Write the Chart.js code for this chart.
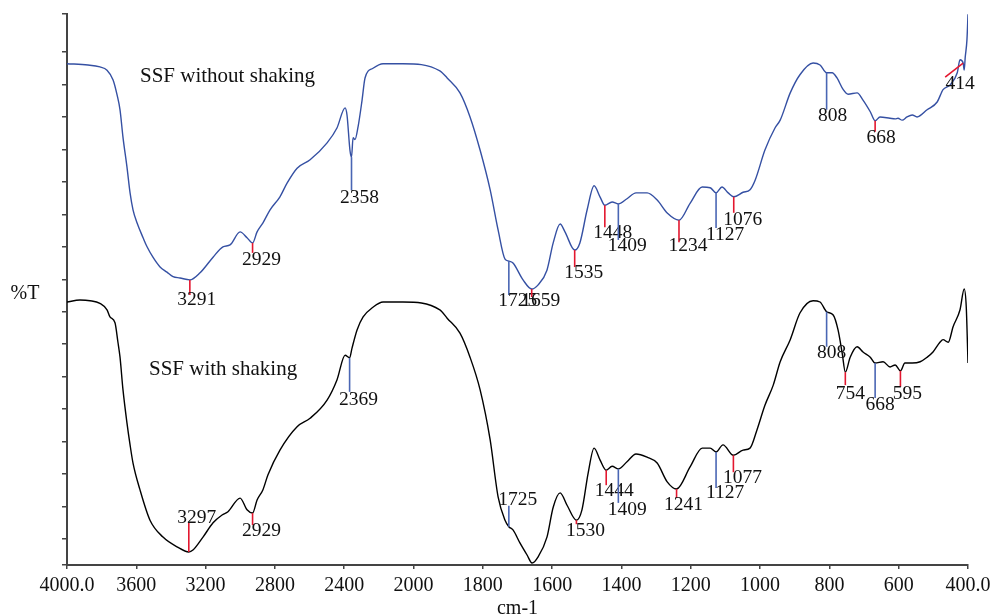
<!DOCTYPE html>
<html><head><meta charset="utf-8">
<script src="https://cdn.jsdelivr.net/npm/chart.js@4.4.1/dist/chart.umd.min.js"></script>
<style>html,body{margin:0;padding:0;background:#fff;}#wrap{width:993px;height:614px;}</style>
</head><body><div id="wrap"><canvas id="c" width="993" height="614"></canvas></div>
<script>
// ---- data (wavenumber in cm-1, transmittance in arbitrary %T units) ----
const wnWithout = [4000,3879,3810,3769,3734,3711,3694,3677,3654,3636,3619,3596,3561,3538,3504,3463,3423,3388,3348,3291,3232,3157,3100,3059,3001,2961,2929,2903,2869,2828,2771,2730,2672,2597,2499,2442,2395,2384,2367,2358,2349,2338,2320,2297,2280,2234,2176,2061,1924,1903,1866,1837,1808,1779,1756,1736,1725,1713,1684,1659,1641,1615,1597,1577,1563,1535,1520,1499,1479,1462,1448,1427,1409,1384,1358,1326,1297,1268,1234,1202,1167,1144,1127,1110,1092,1076,1049,1029,1014,986,957,942,913,885,847,827,808,792,778,760,746,720,703,682,668,654,625,610,602,590,576,561,547,518,489,472,452,431,423,414,411,408,403,400];
const tWithout = [77.2,77.0,76.7,76.2,74.7,72.4,70.1,65.9,61.3,57.3,54.7,52.7,50.4,49.0,47.4,45.9,45.1,44.4,44.2,43.9,45.0,47.4,49.0,49.3,51.3,50.4,49.6,51.3,52.7,54.7,56.7,58.8,61.1,62.4,65.0,67.3,70.4,69.3,63.9,62.8,65.8,65.5,67.5,71.6,75.0,76.5,77.2,77.2,76.1,75.0,72.7,69.0,63.9,57.8,51.6,47.1,46.8,46.5,43.9,42.5,43.1,45.4,49.6,52.5,51.3,48.5,49.6,54.7,58.4,56.7,55.4,55.9,55.6,56.4,57.3,57.3,56.2,54.2,53.1,55.7,58.2,58.1,57.3,58.2,57.3,56.7,57.4,57.8,59.3,63.9,67.3,68.5,72.7,75.5,77.3,77.0,75.8,75.8,75.0,73.2,72.5,72.7,71.6,69.8,68.4,69.0,68.8,68.7,68.8,68.5,69.0,69.3,69.0,70.1,71.3,73.2,73.9,75.8,77.8,77.3,76.2,78.2,80.9,84.8];

const wnWith = [4000,3925,3867,3810,3769,3752,3723,3706,3694,3677,3654,3636,3619,3579,3521,3446,3365,3297,3273,3215,3157,3105,3071,3001,2961,2929,2903,2869,2840,2771,2672,2597,2499,2442,2395,2369,2355,2326,2291,2234,2176,2061,1924,1903,1866,1837,1808,1779,1756,1736,1725,1713,1693,1672,1658,1641,1615,1597,1577,1557,1530,1514,1496,1479,1462,1444,1427,1409,1384,1358,1326,1297,1268,1241,1202,1167,1144,1127,1107,1077,1049,1029,1009,986,962,942,913,885,847,827,808,789,775,763,754,740,720,703,682,668,645,625,610,595,582,561,538,518,501,481,472,457,443,423,411,405,400];
const tWith = [40.5,40.8,40.7,40.3,39.3,38.2,37.3,34.3,32.0,27.0,21.9,18.5,15.7,11.6,6.9,4.3,2.8,2.0,2.3,4.3,6.5,7.7,8.2,10.3,8.5,8.0,10.0,11.6,13.9,17.7,21.3,22.6,25.4,28.5,32.3,31.9,33.4,36.2,38.2,39.7,40.5,40.5,39.3,38.0,35.7,32.0,27.0,19.3,10.5,6.9,5.9,5.4,3.4,1.5,0.3,1.2,4.3,8.9,11.1,9.2,6.9,8.5,14.2,18.0,16.2,14.6,15.2,14.8,15.9,17.1,16.6,15.7,12.8,11.7,15.1,18.0,18.0,17.4,18.5,16.9,17.7,18.0,20.8,24.6,27.7,31.3,34.7,38.8,40.7,40.5,39.0,38.5,36.2,32.6,29.7,32.0,33.6,32.8,32.0,31.1,31.3,30.5,30.8,29.9,31.1,31.1,31.3,32.0,32.8,34.3,34.7,34.3,36.7,39.3,42.5,39.7,31.1];

const xTickValues = [4000,3600,3200,2800,2400,2000,1800,1600,1400,1200,1000,800,600,400];
const xTickLabels = ['4000.0','3600','3200','2800','2400','2000','1800','1600','1400','1200','1000','800','600','400.0'];
const yTickValues = [0,4,9,14,19,24,29,34,39,44,49,54,59,64,69,74,79,84.85];

const peaksWithout = [3291,2929,2358,1725,1659,1535,1448,1409,1234,1127,1076,808,668,414];
const peakKindWithout = ['r','r','b','b','r','r','r','b','r','b','r','b','r','r'];
const peaksWith = [3297,2929,2369,1725,1530,1444,1409,1241,1127,1077,808,754,668,595];
const peakKindWith = ['r','r','b','b','r','r','b','r','b','r','b','r','b','r'];

// ---- annotation layout (pixels) ----
const layoutWithout = {
  len:  [15,10,33,34,8,17,22,36,22,35,16,37,11,14],
  lean: [0,0,0,0,0,0,0,0,0,0,0,0,0,-18],
  dx:   [7,9,8,9,9,9,8,9,9,9,9,6,6,-3],
  dy:   [25,22,46,45,17,28,33,47,31,47,28,48,22,26]
};
const layoutWith = {
  len:  [-29,12,34,-21,4,15,34,9,36,17,35,13,35,16],
  lean: [0,0,0,0,0,0,0,0,0,0,0,0,0,0],
  dx:   [8,9,9,9,9,8,9,7,9,9,5,5,5,7],
  dy:   [-29,23,47,-22,16,26,46,21,46,28,46,27,47,28]
};

// FTIR axis: scale halves above 2000 cm-1
const toAxis = w => (w > 2000 ? 2000 + (w - 2000) / 2 : w);
const valueAt = (wn, t, w) => {
  for (let i = 0; i < wn.length - 1; i++) {
    const a = wn[i], b = wn[i + 1];
    if ((w <= a && w >= b)) { const f = a === b ? 0 : (a - w) / (a - b); return t[i] + f * (t[i + 1] - t[i]); }
  }
  return t[t.length - 1];
};

const RED = '#e3172f', BLUE = '#4a66b4';
const SERIF = '"Liberation Serif", "DejaVu Serif", serif';

const annotPlugin = {
  id: 'annot',
  afterDatasetsDraw(chart) {
    const ctx = chart.ctx, xs = chart.scales.x, ys = chart.scales.y;
    ctx.save();
    ctx.font = '19.5px ' + SERIF;
    ctx.textAlign = 'center';
    ctx.textBaseline = 'alphabetic';
    const groups = [
      [peaksWithout, peakKindWithout, layoutWithout, wnWithout, tWithout],
      [peaksWith, peakKindWith, layoutWith, wnWith, tWith]
    ];
    groups.forEach(([peaks, kinds, lay, wn, t]) => {
      peaks.forEach((w, i) => {
        const px = xs.getPixelForValue(toAxis(w));
        const py = ys.getPixelForValue(valueAt(wn, t, w));
        ctx.strokeStyle = kinds[i] === 'r' ? RED : BLUE;
        ctx.lineWidth = 1.6;
        ctx.beginPath();
        ctx.moveTo(px, py);
        ctx.lineTo(px + lay.lean[i], py + lay.len[i]);
        ctx.stroke();
        ctx.fillStyle = '#111';
        ctx.fillText(String(w), px + lay.dx[i], py + lay.dy[i]);
      });
    });
    // captions
    ctx.textAlign = 'left';
    ctx.textBaseline = 'middle';
    ctx.font = '21px ' + SERIF;
    ctx.fillStyle = '#111';
    const ySeriesA = ys.getPixelForValue(valueAt(wnWithout, tWithout, 4000));
    ctx.fillText('SSF without shaking', 140, ySeriesA + 13);
    const ySeriesB = ys.getPixelForValue(valueAt(wnWith, tWith, 4000));
    ctx.fillText('SSF with shaking', 149, ySeriesB + 67);
    ctx.textAlign = 'center';
    ctx.font = '20px ' + SERIF;
    ctx.fillText('%T', 25, (chart.chartArea.top + chart.chartArea.bottom) / 2 + 4);
    ctx.restore();
  }
};

new Chart(document.getElementById('c'), {
  type: 'line',
  data: {
    datasets: [
      { label: 'SSF without shaking', data: wnWithout.map((w, i) => ({ x: toAxis(w), y: tWithout[i] })),
        borderColor: '#3550a3', borderWidth: 1.4, pointRadius: 0, fill: false, cubicInterpolationMode: 'monotone' },
      { label: 'SSF with shaking', data: wnWith.map((w, i) => ({ x: toAxis(w), y: tWith[i] })),
        borderColor: '#000000', borderWidth: 1.4, pointRadius: 0, fill: false, cubicInterpolationMode: 'monotone' }
    ]
  },
  options: {
    responsive: false,
    animation: false,
    layout: { padding: { top: 14, right: 25, left: 0, bottom: 0 } },
    plugins: { legend: { display: false }, tooltip: { enabled: false } },
    scales: {
      x: {
        type: 'linear', reverse: true, min: 400, max: 3000,
        afterBuildTicks: s => { s.ticks = xTickValues.map(w => ({ value: toAxis(w) })); },
        afterFit: s => { s.height = 49; s.paddingLeft = 0; s.paddingRight = 0; },
        ticks: { color: '#111', font: { family: SERIF, size: 20 }, padding: 5, maxRotation: 0, autoSkip: false,
          callback: (v, i) => xTickLabels[i] },
        grid: { drawOnChartArea: false, drawTicks: true, tickLength: 4, color: '#444', lineWidth: 1.5 },
        border: { display: true, color: '#444', width: 2 },
        title: { display: true, text: 'cm-1', color: '#111', font: { family: SERIF, size: 20 }, padding: { top: 0, bottom: -7 } }
      },
      y: {
        type: 'linear', min: 0, max: 84.85,
        afterBuildTicks: s => { s.ticks = yTickValues.map(v => ({ value: v })); },
        afterFit: s => { s.width = 67; s.paddingTop = 0; s.paddingBottom = 0; },
        ticks: { display: false },
        grid: { drawOnChartArea: false, drawTicks: true, tickLength: 5, color: '#444', lineWidth: 1.5 },
        border: { display: true, color: '#444', width: 2 }
      }
    }
  },
  plugins: [annotPlugin]
});
</script></body></html>
